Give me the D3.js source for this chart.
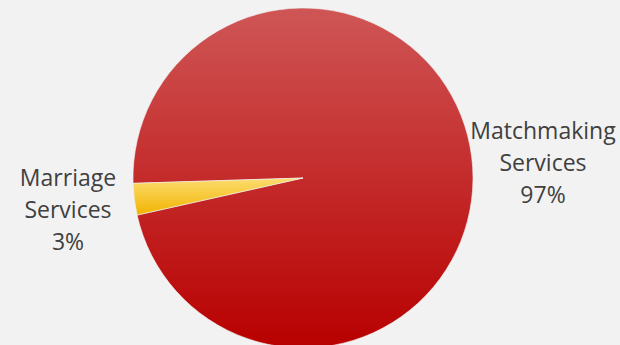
<!DOCTYPE html>
<html><head><meta charset="utf-8">
<script src="https://cdn.jsdelivr.net/npm/d3@7/dist/d3.min.js"></script>
<style>html,body{margin:0;padding:0;background:#f2f2f2;}svg{display:block;}</style>
</head><body>
<svg id="c" width="620" height="345"></svg>
<script>
const categories = ["Matchmaking Services", "Marriage Services"];
const values = [97, 3];
const labelLines = [["Matchmaking", "Services", "97%"], ["Marriage", "Services", "3%"]];

const W = 620, H = 345;
const cx = 303, cy = 178, R = 170;
const svg = d3.select("#c");
svg.append("rect").attr("width", W).attr("height", H).attr("fill", "#f2f2f2");

const defs = svg.append("defs");
const gRed = defs.append("linearGradient").attr("id", "gRed")
  .attr("gradientUnits", "userSpaceOnUse").attr("x1", 0).attr("y1", -R).attr("x2", 0).attr("y2", R);
gRed.append("stop").attr("offset", 0).attr("stop-color", "#cf5656");
gRed.append("stop").attr("offset", 0.5).attr("stop-color", "#c42b2b");
gRed.append("stop").attr("offset", 1).attr("stop-color", "#b80000");
const gYel = defs.append("linearGradient").attr("id", "gYel")
  .attr("x1", 0).attr("y1", 0).attr("x2", 0).attr("y2", 1);
gYel.append("stop").attr("offset", 0).attr("stop-color", "#fddc70");
gYel.append("stop").attr("offset", 1).attr("stop-color", "#f0b400");
const fills = ["url(#gRed)", "url(#gYel)"];

const start = 268.2 * Math.PI / 180;
const pie = d3.pie().sort(null).startAngle(start).endAngle(start + 2 * Math.PI);
const arcs = pie(values);
const arc = d3.arc().innerRadius(0).outerRadius(R);

const g = svg.append("g").attr("transform", `translate(${cx},${cy})`);
g.selectAll("path").data(arcs).join("path")
  .attr("d", arc).attr("fill", (d, i) => fills[i])
  .attr("stroke", "#f2f2f2").attr("stroke-width", 0.6);

const labelPos = [[543, 139], [68, 186]];
const lh = 32;
labelLines.forEach((lines, i) => {
  const t = svg.append("text").attr("text-anchor", "middle")
    .attr("font-family", "'Open Sans', sans-serif").attr("font-size", 23)
    .attr("fill", "#404040");
  lines.forEach((s, j) => {
    t.append("tspan").attr("x", labelPos[i][0]).attr("y", labelPos[i][1] + j * lh).text(s);
  });
});
</script>
</body></html>
